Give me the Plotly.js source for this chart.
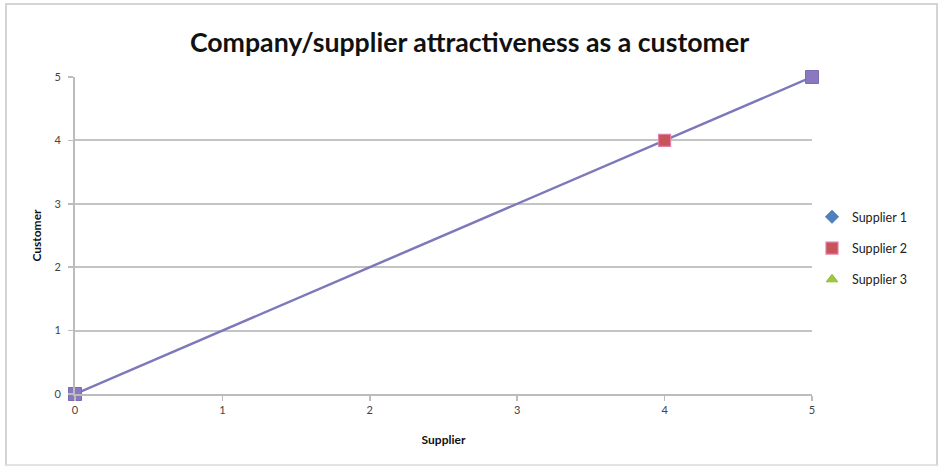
<!DOCTYPE html>
<html>
<head>
<meta charset="utf-8">
<script src="https://cdn.plot.ly/plotly-3.0.1.min.js"></script>
<style>
  html, body { margin: 0; padding: 0; background: #fff; }
  #frame { position: absolute; left: 5px; top: 3px; width: 933px; height: 463px;
           border: 2px solid #d4d4d4; border-bottom-color: #e4e4e4; box-sizing: border-box; }
  #chart { position: absolute; left: 0; top: 0; width: 939px; height: 469px; }
</style>
</head>
<body>
<div id="frame"></div>
<div id="chart"></div>
<script>
// Scores for each supplier (x = supplier view, y = customer view); null = not scored
const supplierNames = ["Supplier 1", "Supplier 2", "Supplier 3"];
const supplier1X = [null];
const supplier1Y = [null];
const supplier2X = [4];
const supplier2Y = [4];
const supplier3X = [null];
const supplier3Y = [null];
// Diagonal reference line
const diagonalX = [0, 5];
const diagonalY = [0, 5];
const tickVals = [0, 1, 2, 3, 4, 5];

const font = "Lato, 'Open Sans', sans-serif";

const traces = [
  {
    x: diagonalX, y: diagonalY, type: "scatter", mode: "lines+markers",
    showlegend: false, cliponaxis: false,
    line: { color: "#7d78ba", width: 2.5 },
    marker: { symbol: "square", size: 13, color: "#8b79c0", line: { color: "#7a6bb2", width: 1 } }
  },
  {
    x: supplier1X, y: supplier1Y, type: "scatter", mode: "markers", name: supplierNames[0],
    legendgroup: "a", cliponaxis: false,
    marker: { symbol: "diamond", size: 10, color: "#4f81bd", line: { color: "#4a7ab5", width: 1 } }
  },
  {
    x: supplier2X, y: supplier2Y, type: "scatter", mode: "markers", name: supplierNames[1],
    legendgroup: "b", cliponaxis: false,
    marker: { symbol: "square", size: 12, color: "#c8545a", line: { color: "#e07fa8", width: 1.2 } }
  },
  {
    x: supplier3X, y: supplier3Y, type: "scatter", mode: "markers", name: supplierNames[2],
    legendgroup: "c", cliponaxis: false,
    marker: { symbol: "triangle-up", size: 10, color: "#9bc83c", line: { color: "#8fbb35", width: 1 } }
  }
];

const layout = {
  width: 939, height: 469,
  paper_bgcolor: "rgba(0,0,0,0)", plot_bgcolor: "rgba(0,0,0,0)",
  margin: { l: 75, r: 127, t: 77, b: 75 },
  font: { family: font, color: "#333" },
  title: {
    text: "<b>Company/supplier attractiveness as a customer</b>",
    font: { family: font, size: 26.7, color: "#111" },
    x: 0.5, xanchor: "center", y: 0.91, yanchor: "middle"
  },
  xaxis: {
    range: [0, 5], tickvals: tickVals, ticktext: tickVals.map(String),
    showgrid: false, zeroline: false, showline: true, linecolor: "#bcbcbc", linewidth: 2,
    ticks: "outside", ticklen: 5, tickcolor: "#bcbcbc", tickwidth: 1.5,
    tickfont: { family: font, size: 11, color: "#444" },
    title: { text: "<b>Supplier</b>", font: { family: font, size: 12, color: "#111" }, standoff: 20 }
  },
  yaxis: {
    range: [0, 5], tickvals: tickVals, ticktext: tickVals.map(String),
    showgrid: true, gridcolor: "#c4c4c4", gridwidth: 2, zeroline: false,
    showline: true, linecolor: "#bcbcbc", linewidth: 2,
    ticks: "outside", ticklen: 5, tickcolor: "#bcbcbc", tickwidth: 1.5, ticklabelstandoff: 5,
    tickfont: { family: font, size: 11, color: "#444" },
    title: { text: "<b>Customer</b>", font: { family: font, size: 12, color: "#111" }, standoff: 10 }
  },
  legend: {
    x: 1.0, xanchor: "left", y: 0.46, yanchor: "middle",
    traceorder: "grouped", tracegroupgap: 12, itemwidth: 30,
    font: { family: font, size: 12.5, color: "#222" },
    bgcolor: "rgba(0,0,0,0)"
  }
};

Plotly.newPlot("chart", traces, layout, { displayModeBar: false, staticPlot: true });
</script>
</body>
</html>
